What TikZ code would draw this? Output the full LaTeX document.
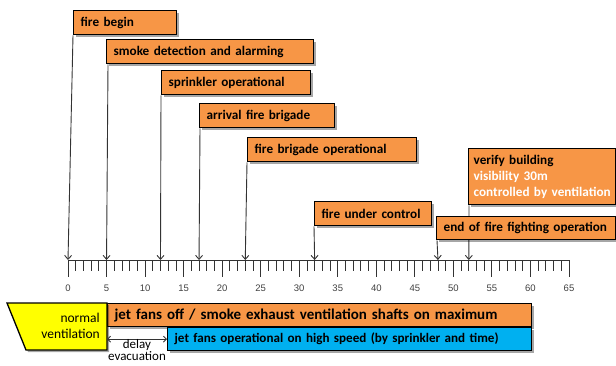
\documentclass[tikz,border=0pt]{standalone}
\usepackage{fontspec}
\setmainfont{Carlito}
\newfontfamily\axisfont{Liberation Sans}
\usetikzlibrary{arrows.meta,shadows,backgrounds}
\definecolor{evorange}{HTML}{F79646}
\definecolor{evblue}{HTML}{00B0F0}
\definecolor{evyellow}{HTML}{FFFF00}
\definecolor{lngrey}{HTML}{333333}
\definecolor{axgrey}{HTML}{404040}
\begin{document}
\begin{tikzpicture}[x=1pt,y=-1pt,
  shad/.style={drop shadow={shadow xshift=2pt,shadow yshift=-2pt,opacity=0.35,fill=black}},
  evbox/.style={draw=black,line width=1.3pt,fill=evorange,shad,
    font=\bfseries\fontsize{13.2}{16}\selectfont,anchor=north west,
    inner xsep=7pt,inner ysep=0pt,minimum height=24pt,align=left},
  barbox/.style={draw=black,line width=1.3pt,shad,anchor=north west,
    inner xsep=7pt,inner ysep=0pt,minimum height=23pt,align=left},
  arr/.style={draw=lngrey,line width=0.9pt,-{Straight Barb[length=4pt,width=7pt]}},
  darr/.style={draw=lngrey,line width=0.9pt,{Straight Barb[length=3pt,width=6pt]}-{Straight Barb[length=3pt,width=6pt]}},
  axline/.style={draw=lngrey,line width=1pt},
  ticklbl/.style={font=\axisfont\fontsize{9.5}{10}\selectfont,text=axgrey,inner sep=0pt},
  plain/.style={font=\fontsize{13.5}{16}\selectfont,inner sep=0pt}]
\useasboundingbox (0,0) rectangle (616,365);

% axis
\coordinate (t0) at (68,260);
\coordinate (t65) at (569,260);
\draw[axline] (t0) -- (t65);
\foreach \i in {0,...,65}{
  \pgfmathsetmacro{\xx}{68+\i*7.70769}
  \pgfmathtruncatemacro{\m}{mod(\i,5)}
  \ifnum\m=0
    \draw[axline] (\xx,260) -- (\xx,277);
    \node[ticklbl] at (\xx,288) {\i};
  \else
    \draw[draw=lngrey,line width=0.8pt] (\xx,261) -- (\xx,271);
  \fi
}
\foreach \i in {5,12,17,23,32,48,52}{
  \pgfmathsetmacro{\xx}{68+\i*7.70769}
  \coordinate (t\i) at (\xx,260);
}

% event boxes
\node[evbox,text width=89pt] (b1) at (73,10) {fire begin};
\node[evbox,text width=193pt] (b2) at (106,39) {smoke detection and alarming};
\node[evbox,text width=135pt] (b3) at (161,70) {sprinkler operational};
\node[evbox,text width=121pt] (b4) at (199,103) {arrival fire brigade};
\node[evbox,text width=155pt] (b5) at (247,137) {fire brigade operational};
\node[evbox,text width=103pt] (b6) at (314,201) {fire under control};
\node[evbox,inner xsep=5pt,text width=137pt,minimum height=56pt] (b8) at (468,148)
  {verify building\\\textcolor{white}{visibility 30m}\\\textcolor{white}{controlled by ventilation}};
\node[evbox,text width=165pt,minimum height=23pt] (b7) at (436,216) {end of fire fighting operation};

\begin{pgfonlayer}{background}
\draw[arr] (b1.south west) -- (t0);
\draw[arr] ([xshift=2pt]b2.south west) -- (t5);
\draw[arr] (b3.south west) -- (t12);
\draw[arr] ([xshift=1pt]b4.south west) -- (t17);
\draw[arr] (b5.south west) -- (t23);
\draw[arr] (b6.south west) -- (t32);
\draw[arr] ([xshift=1pt]b7.south west) -- (t48);
\draw[arr] ([xshift=1pt]b8.south west) -- (t52);
\end{pgfonlayer}

% ventilation bars
\node[barbox,fill=evorange,text width=410pt,font=\bfseries\fontsize{15}{18}\selectfont] (orange) at (107,303)
  {jet fans off / smoke exhaust ventilation shafts on maximum};
\node[barbox,fill=evblue,text width=350pt,minimum height=23pt,font=\bfseries\fontsize{13.1}{15}\selectfont] (blue) at (167,327)
  {jet fans operational on high speed (by sprinkler and time)};
\filldraw[draw=black,line width=1.3pt,fill=evyellow,shad]
  (7,303) -- (orange.north west) -- (107,350) -- (26,350) -- cycle;
\node[plain,align=right,anchor=east] (nv) at (100,326) {normal\\ventilation};

\draw[darr] (blue.west -| orange.south west) -- (blue.west);
\node[plain,font=\fontsize{13}{10.5}\selectfont,align=center,anchor=south] (de) at (137,361) {delay\\evacuation};
\end{tikzpicture}
\end{document}
